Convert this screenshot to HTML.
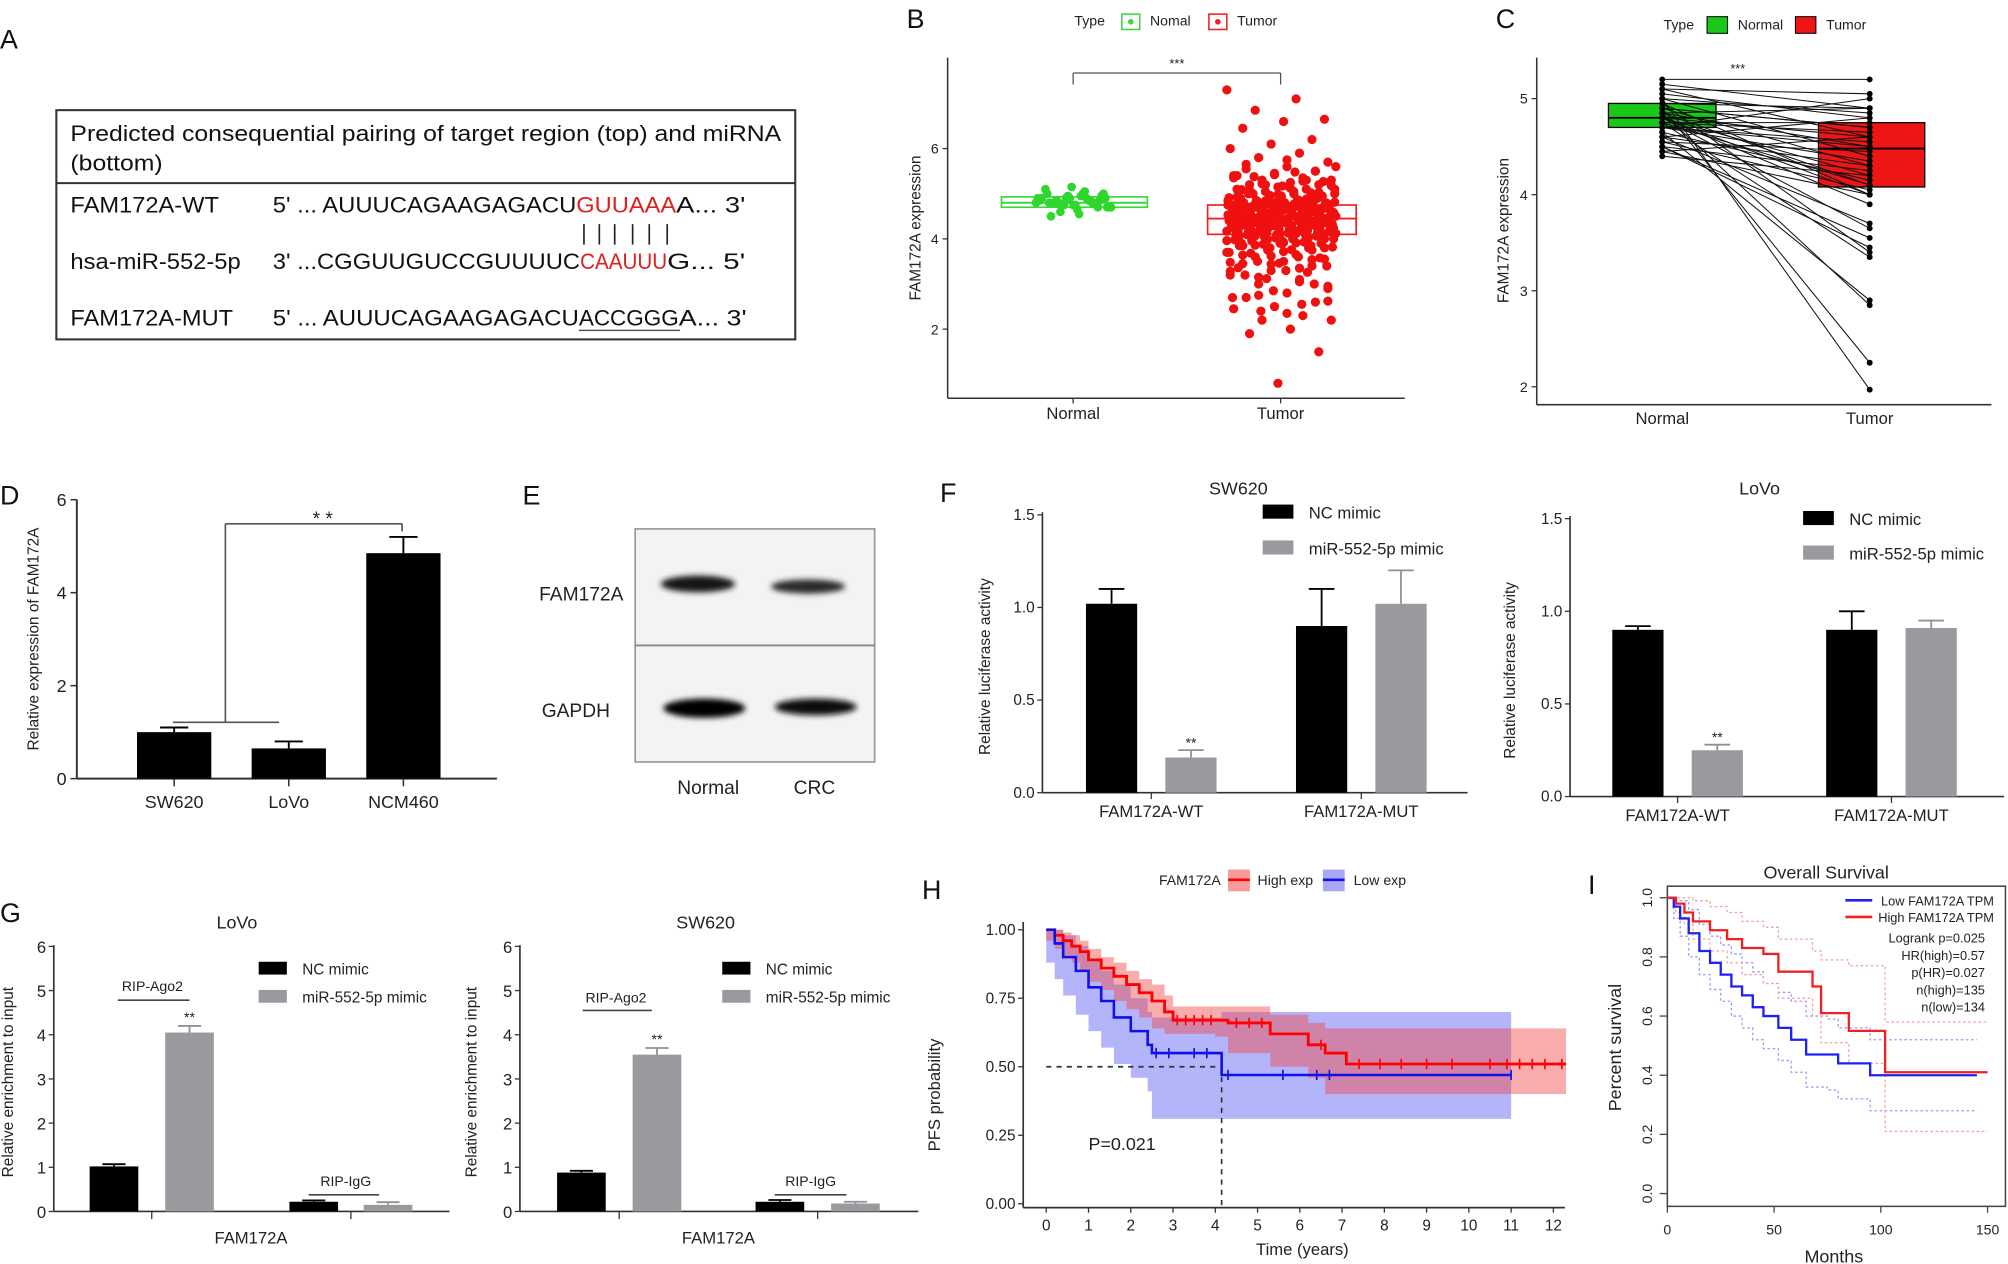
<!DOCTYPE html>
<html><head><meta charset="utf-8"><title>FAM172A figure</title>
<style>
html,body{margin:0;padding:0;background:#fff;}
svg{display:block;font-family:"Liberation Sans",Arial,sans-serif;}
</style></head>
<body>
<svg id="fig" xmlns="http://www.w3.org/2000/svg" width="2008" height="1264" viewBox="0 0 1568 987">
<defs>
<filter id="blur" x="-30%" y="-100%" width="160%" height="300%"><feGaussianBlur stdDeviation="2.2"/></filter>
</defs>
<rect x="0" y="0" width="1568" height="987" fill="#fff"/>

<g font-size="21" fill="#111">
<text x="0" y="38">A</text>
<text x="708" y="22">B</text>
<text x="1168" y="22">C</text>
<text x="0" y="394">D</text>
<text x="408" y="394">E</text>
<text x="734" y="392">F</text>
<text x="0" y="720">G</text>
<text x="720" y="702">H</text>
<text x="1240" y="698">I</text>
</g>

<g font-size="17" fill="#111">
<rect x="44" y="86" width="577" height="179" fill="none" stroke="#333" stroke-width="1.6"/>
<line x1="44" y1="143" x2="621" y2="143" stroke="#333" stroke-width="1.6"/>
<text x="55" y="110" textLength="555" lengthAdjust="spacingAndGlyphs">Predicted consequential pairing of target region (top) and miRNA</text>
<text x="55" y="133" textLength="72" lengthAdjust="spacingAndGlyphs">(bottom)</text>
<text x="55" y="166" textLength="116" lengthAdjust="spacingAndGlyphs">FAM172A-WT</text>
<text x="213" y="166" textLength="237" lengthAdjust="spacingAndGlyphs">5' ... AUUUCAGAAGAGACU</text>
<text x="450" y="166" textLength="78" lengthAdjust="spacingAndGlyphs" fill="#e0201e">GUUAAA</text>
<text x="528" y="166" textLength="54" lengthAdjust="spacingAndGlyphs">A... 3'</text>
<g stroke="#222" stroke-width="1.3">
<line x1="456" y1="175" x2="456" y2="191"/><line x1="468" y1="175" x2="468" y2="191"/><line x1="480" y1="175" x2="480" y2="191"/><line x1="494" y1="175" x2="494" y2="191"/><line x1="507" y1="175" x2="507" y2="191"/><line x1="521" y1="175" x2="521" y2="191"/>
</g>
<text x="55" y="210" textLength="133" lengthAdjust="spacingAndGlyphs">hsa-miR-552-5p</text>
<text x="213" y="210" textLength="240" lengthAdjust="spacingAndGlyphs">3' ...CGGUUGUCCGUUUUC</text>
<text x="453" y="210" textLength="68" lengthAdjust="spacingAndGlyphs" fill="#e0201e">CAAUUU</text>
<text x="521" y="210" textLength="61" lengthAdjust="spacingAndGlyphs">G... 5'</text>
<text x="55" y="254" textLength="127" lengthAdjust="spacingAndGlyphs">FAM172A-MUT</text>
<text x="213" y="254" textLength="239" lengthAdjust="spacingAndGlyphs">5' ... AUUUCAGAAGAGACU</text>
<text x="452" y="254" textLength="78" lengthAdjust="spacingAndGlyphs">ACCGGG</text>
<line x1="452" y1="258" x2="531" y2="258" stroke="#555" stroke-width="1.2"/>
<text x="530" y="254" textLength="53" lengthAdjust="spacingAndGlyphs">A... 3'</text>
</g>

<g>
<rect x="496" y="413" width="187" height="182" fill="#f3f3f3" stroke="#999" stroke-width="1.3"/>
<line x1="496" y1="504" x2="683" y2="504" stroke="#888" stroke-width="1.5"/>
<g filter="url(#blur)">
<ellipse cx="545" cy="456" rx="29" ry="6.5" fill="#151515"/>
<ellipse cx="631" cy="458" rx="29" ry="5.5" fill="#2a2a2a"/>
<ellipse cx="550" cy="553" rx="32" ry="7.5" fill="#050505"/>
<ellipse cx="637" cy="552" rx="32" ry="6.5" fill="#101010"/>
</g>
<text x="421" y="469" font-size="15" fill="#222">FAM172A</text>
<text x="423" y="560" font-size="15" fill="#222">GAPDH</text>
<text x="553" y="620" font-size="15" fill="#222" text-anchor="middle">Normal</text>
<text x="636" y="620" font-size="15" fill="#222" text-anchor="middle">CRC</text>
</g>
<g id="charts"></g>
</svg>
<script>
// Panel B
const bNormal=[4.8,4.9,4.7,4.85,5.0,4.75,4.95,4.6,4.8,5.1,4.9,4.7,4.85,4.8,5.05,4.65,4.9,4.75,4.8,5.0,4.85,4.7,4.95,4.8,4.9,4.55,5.15,4.75,4.85,4.8,4.9,4.7,5.0,4.8,4.85,4.95,4.75,4.9,4.8,4.5];
const bTumor=[7.3,7.1,6.85,6.65,6.6,6.45,6.2,6.1,6.0,5.9,5.8,5.7,5.6,5.55,5.5,5.45,5.4,5.35,5.3,5.3,5.25,5.2,5.2,5.15,5.1,5.1,5.05,5.0,5.0,5.0,4.95,4.95,4.9,4.9,4.9,4.85,4.85,4.85,4.8,4.8,4.8,4.8,4.75,4.75,4.75,4.7,4.7,4.7,4.7,4.65,4.65,4.65,4.6,4.6,4.6,4.6,4.55,4.55,4.55,4.5,4.5,4.5,4.5,4.5,4.45,4.45,4.45,4.45,4.4,4.4,4.4,4.4,4.35,4.35,4.35,4.3,4.3,4.3,4.25,4.25,4.2,4.2,4.2,4.15,4.15,4.1,4.1,4.1,4.05,4.0,4.0,3.95,3.9,3.9,3.85,3.8,3.75,3.7,3.65,3.6,3.55,3.5,3.45,3.4,3.3,3.2,3.1,3.0,2.9,2.8,2.7,2.6,2.5,2.45,2.3,2.2,2.2,2.0,1.9,1.5,0.8,
5.4,5.3,5.2,5.1,5.05,5.0,4.95,4.9,4.85,4.8,4.78,4.75,4.72,4.7,4.68,4.65,4.62,4.6,4.58,4.55,4.52,4.5,4.48,4.46,4.44,4.42,4.4,4.38,4.36,4.34,4.32,4.3,4.28,4.25,4.22,4.2,4.18,4.15,4.12,4.1,4.05,4.0,3.95,3.9,3.85,3.8,3.7,3.6,3.5,3.4,3.3,3.2,3.0,2.85,2.7,2.55,2.4,
5.25,5.15,5.0,4.9,4.82,4.76,4.7,4.64,4.58,4.52,4.47,4.43,4.38,4.33,4.27,4.22,4.17,4.12,4.07,4.0,3.92,3.85,3.75,3.62,3.48,3.35,3.15,2.95,
5.75,5.65,5.5,5.42,5.35,5.28,5.22,5.18,5.12,5.08,5.03,4.98,4.93,4.88,4.84,4.81,4.77,4.73,4.69,4.66,4.63,4.59,4.56,4.53,4.49,4.46,4.43,4.39,4.36,4.33,4.29,4.26,4.23,4.19,4.16,4.13,4.09,4.06,4.02,3.98,3.93,3.88,3.82,3.76,3.68,3.58,3.46,3.36,3.26,3.12,
5.6,5.48,5.38,5.27,5.17,5.09,5.02,4.96,4.91,4.86,4.83,4.79,4.74,4.71,4.67,4.64,4.61,4.57,4.54,4.51,4.47,4.44,4.41,4.37,4.34,4.31,4.27,4.24,4.21,4.17,4.14,4.11,4.07,4.03,3.99,3.96,3.91,3.86,3.8,3.72,3.64,3.54,3.44,3.28,3.05,2.75,2.62,2.35];
const bNormalBox=[4.7,4.8,4.93];
const bTumorBox=[4.1,4.45,4.75];
const bTicks=[2,4,6];
// Panel C
const cNormal=[5.2,5.15,5.1,5.1,5.05,5.0,5.0,4.95,4.95,4.9,4.9,4.9,4.85,4.85,4.85,4.8,4.8,4.8,4.8,4.75,4.75,4.75,4.7,4.7,4.7,4.65,4.65,4.6,4.6,4.55,4.55,4.5,4.5,4.45,4.45,4.4,4.9,4.8,4.7,5.0,4.6,4.85,4.75,4.95,4.5];
const cTumor=[5.2,4.9,5.05,4.6,4.8,4.4,1.97,4.9,3.4,4.7,2.25,4.3,4.5,2.85,4.9,4.2,4.6,3.65,4.0,4.75,3.35,4.1,4.55,5.0,4.35,2.9,4.15,4.8,3.7,4.05,4.45,4.25,3.55,4.6,4.0,4.2,4.7,3.9,4.5,4.85,4.3,4.1,4.65,4.0,3.45];
const cNormalBox=[4.7,4.8,4.95];
const cTumorBox=[4.08,4.48,4.75];
const cTicks=[2,3,4,5];
// Panel D
const dCats=["SW620","LoVo","NCM460"];
const dVals=[1.0,0.65,4.85];
const dErr=[0.1,0.15,0.35];
const dTicks=[0,2,4,6];
// Panel F
const fCats=["FAM172A-WT","FAM172A-MUT"];
const fSWnc=[1.02,0.90], fSWnce=[0.08,0.20];
const fSWmi=[0.19,1.02], fSWmie=[0.04,0.18];
const fLVnc=[0.90,0.90], fLVnce=[0.02,0.10];
const fLVmi=[0.25,0.91], fLVmie=[0.03,0.04];
const fTicks=[0.0,0.5,1.0,1.5];
// Panel G
const gLVnc=[1.02,0.22], gLVnce=[0.05,0.03];
const gLVmi=[4.05,0.15], gLVmie=[0.15,0.06];
const gSWnc=[0.88,0.22], gSWnce=[0.04,0.04];
const gSWmi=[3.55,0.18], gSWmie=[0.15,0.04];
const gTicks=[0,1,2,3,4,5,6];
// Panel H
const hRedT=[0,0.2,0.4,0.6,0.8,1.0,1.3,1.6,1.9,2.2,2.5,2.8,3.0,4.0,4.3,5.3,6.2,6.6,7.1,12.3];
const hRedP=[1,0.98,0.96,0.94,0.92,0.89,0.86,0.83,0.80,0.77,0.74,0.70,0.67,0.67,0.66,0.62,0.58,0.55,0.51,0.51];
const hRedLo=[1,0.96,0.93,0.9,0.88,0.85,0.81,0.78,0.74,0.71,0.68,0.64,0.62,0.62,0.61,0.55,0.5,0.46,0.40,0.40];
const hRedHi=[1,1,0.99,0.98,0.96,0.93,0.9,0.88,0.85,0.82,0.8,0.76,0.72,0.72,0.72,0.69,0.66,0.64,0.64,0.64];
const hBlueT=[0,0.2,0.4,0.7,1.0,1.3,1.6,2.0,2.4,2.5,4.15,11];
const hBlueP=[1,0.95,0.9,0.85,0.79,0.74,0.68,0.63,0.58,0.55,0.47,0.47];
const hBlueLo=[1,0.88,0.82,0.76,0.69,0.63,0.57,0.51,0.46,0.41,0.31,0.31];
const hBlueHi=[1,1,0.98,0.94,0.89,0.85,0.8,0.75,0.7,0.68,0.70,0.70];
const hRedCens=[3.1,3.3,3.5,3.7,3.9,4.5,4.8,5.1,6.5,7.4,7.9,8.4,9.0,9.6,10.5,10.9,11.2,11.5,11.8,12.2];
const hBlueCens=[2.6,2.9,3.5,3.8,4.3,5.6,6.4,6.7,11];
const hXTicks=[0,1,2,3,4,5,6,7,8,9,10,11,12];
const hYTicks=[0,0.25,0.5,0.75,1.0];
const hMedian=[4.15,0.5];
// Panel I
const iLowM=[0,3,6,10,15,20,25,30,35,40,45,52,58,65,75,80,95,145];
const iLowS=[1,0.97,0.93,0.88,0.82,0.78,0.74,0.70,0.67,0.63,0.60,0.56,0.52,0.47,0.47,0.44,0.40,0.40];
const iLowUp=[1,1,0.99,0.96,0.91,0.87,0.84,0.81,0.78,0.75,0.71,0.68,0.65,0.6,0.59,0.56,0.52,0.52];
const iLowDn=[1,0.93,0.87,0.8,0.74,0.69,0.65,0.6,0.56,0.52,0.49,0.45,0.41,0.36,0.35,0.32,0.28,0.28];
const iHighM=[0,4,8,12,20,28,35,45,52,68,72,85,102,150];
const iHighS=[1,0.98,0.95,0.92,0.89,0.86,0.83,0.81,0.75,0.70,0.61,0.55,0.41,0.41];
const iHighUp=[1,1,1,0.99,0.97,0.95,0.92,0.9,0.86,0.82,0.79,0.77,0.58,0.58];
const iHighDn=[1,0.95,0.91,0.86,0.82,0.78,0.74,0.71,0.66,0.6,0.51,0.44,0.21,0.21];
const iXTicks=[0,50,100,150];
const iYTicks=[0,0.2,0.4,0.6,0.8,1.0];
const iStats=["Logrank p=0.025","HR(high)=0.57","p(HR)=0.027","n(high)=135","n(low)=134"];

const NS='http://www.w3.org/2000/svg';
const root=document.getElementById('charts');
function mk(p,tag,a,txt){const e=document.createElementNS(NS,tag);for(const k in a)e.setAttribute(k,a[k]);if(txt!=null)e.textContent=txt;p.appendChild(e);return e;}
function grp(name){const g=mk(root,'g',{});


return g;}
function lbl(p,x,y,s,size,anchor,name,extra){const a=Object.assign({x:x,y:y,'font-size':size,'text-anchor':anchor||'start',fill:'#222'},extra||{});const t=mk(p,'text',a,s);


return t;}
function line(p,x1,y1,x2,y2,st,w,name,dash){const l=mk(p,'line',{x1:x1,y1:y1,x2:x2,y2:y2,stroke:st,'stroke-width':w});if(dash)l.setAttribute('stroke-dasharray',dash);


return l;}
function rect(p,x,y,w,h,fill,name,extra){const r=mk(p,'rect',Object.assign({x:x,y:y,width:w,height:h,fill:fill},extra||{}));


return r;}
function vlabel(p,x,y,s,size,name){return lbl(p,x,y,s,size,'middle',name,{transform:'rotate(-90 '+x+' '+y+')'});}

// PANEL B
(function(){
const g=grp('panel-b-boxplot');
const y=v=>257-(v-2)*35.25;
line(g,740,45,740,311,'#333',1.2,'b-y-axis');
line(g,740,311,1097,311,'#333',1.2,'b-x-axis');
bTicks.forEach(v=>{line(g,736,y(v),740,y(v),'#333',1,'b-y-tick');lbl(g,733,y(v)+4,String(v),11,'end','b-y-tick-label');});
vlabel(g,719,178,'FAM172A expression',12,'b-y-axis-title');
lbl(g,838,327,'Normal',13,'middle','b-x-label-normal');
lbl(g,1000,327,'Tumor',13,'middle','b-x-label-tumor');
line(g,838,315,838,311,'#333',1,'b-x-tick');line(g,1000,315,1000,311,'#333',1,'b-x-tick');
function box(cx,w,q,col,name){const bg=mk(g,'g',{});


rect(bg,cx-w/2,y(q[2]),w,y(q[0])-y(q[2]),'none',name+'-rect',{stroke:col,'stroke-width':1.3});
line(bg,cx-w/2,y(q[1]),cx+w/2,y(q[1]),col,1.5,name+'-median');}
box(839,114,bNormalBox,'#3dd63d','b-box-normal');
box(1001,116,bTumorBox,'#ee2020','b-box-tumor');
bNormal.forEach((v,i)=>{const c=mk(g,'circle',{cx:839+(((i*37)%41)/41-0.5)*60,cy:y(v),r:3.4,fill:'#2ed62e'});

});
bTumor.forEach((v,i)=>{const c=mk(g,'circle',{cx:1001+(((i*61)%97)/97-0.5)*86,cy:y(v),r:3.6,fill:'#f01010'});

});
line(g,838,57,1000,57,'#555',1,'b-sig-bracket');line(g,838,57,838,66,'#555',1,'b-sig-left');line(g,1000,57,1000,66,'#555',1,'b-sig-right');
lbl(g,919,53,'***',10,'middle','b-sig-stars');
lbl(g,839,20,'Type',11,'start','b-legend-title');
rect(g,876,11,14,12,'none','b-legend-normal-key',{stroke:'#3dd63d','stroke-width':1.2});
let d=mk(g,'circle',{cx:883,cy:17,r:2.2,fill:'#3dd63d'});


lbl(g,898,20,'Nomal',11,'start','b-legend-normal-label');
rect(g,944,11,14,12,'none','b-legend-tumor-key',{stroke:'#ee2020','stroke-width':1.2});
d=mk(g,'circle',{cx:951,cy:17,r:2.2,fill:'#ee2020'});


lbl(g,966,20,'Tumor',11,'start','b-legend-tumor-label');
})();

// PANEL C
(function(){
const g=grp('panel-c-paired');
const y=v=>77-(v-5)*75;
const xN=1298,xT=1460;
line(g,1200,45,1200,316,'#333',1.2,'c-y-axis');
line(g,1200,316,1555,316,'#333',1.2,'c-x-axis');
cTicks.forEach(v=>{line(g,1196,y(v),1200,y(v),'#333',1,'c-y-tick');lbl(g,1193,y(v)+4,String(v),11,'end','c-y-tick-label');});
vlabel(g,1178,180,'FAM172A expression',12,'c-y-axis-title');
lbl(g,xN,331,'Normal',13,'middle','c-x-label-normal');
lbl(g,xT,331,'Tumor',13,'middle','c-x-label-tumor');
rect(g,1256,y(cNormalBox[2]),84,y(cNormalBox[0])-y(cNormalBox[2]),'#19c819','c-box-normal',{stroke:'#000','stroke-width':1});
line(g,1256,y(cNormalBox[1]),1340,y(cNormalBox[1]),'#000',1.5,'c-median-normal');
rect(g,1420,y(cTumorBox[2]),83,y(cTumorBox[0])-y(cTumorBox[2]),'#ee1515','c-box-tumor',{stroke:'#000','stroke-width':1});
line(g,1420,y(cTumorBox[1]),1503,y(cTumorBox[1]),'#000',1.5,'c-median-tumor');
cNormal.forEach((v,i)=>{line(g,xN,y(v),xT,y(cTumor[i]),'#111',0.8,'c-pair-line');});
cNormal.forEach(v=>{const c=mk(g,'circle',{cx:xN,cy:y(v),r:2.3,fill:'#000'});

});
cTumor.forEach(v=>{const c=mk(g,'circle',{cx:xT,cy:y(v),r:2.3,fill:'#000'});

});
lbl(g,1357,57,'***',10,'middle','c-sig-stars');
lbl(g,1299,23,'Type',11,'start','c-legend-title');
rect(g,1333,13,16,13,'#19c819','c-legend-normal-key',{stroke:'#000','stroke-width':0.8});
lbl(g,1357,23,'Normal',11,'start','c-legend-normal-label');
rect(g,1402,13,16,13,'#ee1515','c-legend-tumor-key',{stroke:'#000','stroke-width':0.8});
lbl(g,1426,23,'Tumor',11,'start','c-legend-tumor-label');
})();

// PANEL D
(function(){
const g=grp('panel-d-bars');
const y=v=>608-v*36.3;
const x=i=>136+i*89.5;
line(g,60,390,60,608,'#333',1.5,'d-y-axis');
line(g,60,608,388,608,'#333',1.5,'d-x-axis');
dTicks.forEach(v=>{line(g,55,y(v),60,y(v),'#333',1.2,'d-y-tick');lbl(g,52,y(v)+5,String(v),14,'end','d-y-tick-label');});
vlabel(g,30,499,'Relative expression of FAM172A',12,'d-y-axis-title');
dCats.forEach((c,i)=>{
line(g,x(i),608,x(i),614,'#333',1.2,'d-x-tick');
lbl(g,x(i),631,c,14,'middle','d-x-label');
line(g,x(i),y(dVals[i]),x(i),y(dVals[i]+dErr[i]),'#000',1.5,'d-error-bar');
line(g,x(i)-11,y(dVals[i]+dErr[i]),x(i)+11,y(dVals[i]+dErr[i]),'#000',1.5,'d-error-cap');
const r=rect(g,x(i)-29,y(dVals[i]),58,y(0)-y(dVals[i]),'#000','d-bar');
});
line(g,135,564,218,564,'#555',1.3,'d-bracket-low');
line(g,176,564,176,409,'#555',1.3,'d-bracket-vert');
line(g,176,409,314,409,'#555',1.3,'d-bracket-top');
line(g,314,409,314,415,'#555',1.3,'d-bracket-right');
lbl(g,252,410,'* *',15,'middle','d-sig-stars');
})();

// PANEL F
function fPanel(name,ax,y0,y15,xEnd,bars,ncV,ncE,miV,miE,title,tx,legX,legY1,legY2,ytx){
const g=grp(name);
const y=v=>y0-v*(y0-y15)/1.5;
line(g,ax,y15-2,ax,y0,'#333',1.3,name+'-y-axis');
line(g,ax,y0,xEnd,y0,'#333',1.3,name+'-x-axis');
fTicks.forEach(v=>{line(g,ax-4,y(v),ax,y(v),'#333',1,name+'-y-tick');lbl(g,ax-6,y(v)+4,v.toFixed(1),12,'end',name+'-y-tick-label');});
vlabel(g,ytx,(y0+y15)/2+10,'Relative luciferase activity',12,name+'-y-axis-title');
lbl(g,tx,386,title,14,'middle',name+'-title');
fCats.forEach((c,i)=>{
const b=bars[i];
const mid=(b[0]+b[1])/2;
line(g,mid,y0,mid,y0+5,'#333',1,name+'-x-tick');
lbl(g,mid,y0+19,c,13,'middle',name+'-x-label');
line(g,b[0],y(ncV[i]),b[0],y(ncV[i]+ncE[i]),'#000',1.4,name+'-err-nc');
line(g,b[0]-10,y(ncV[i]+ncE[i]),b[0]+10,y(ncV[i]+ncE[i]),'#000',1.4,name+'-cap-nc');
rect(g,b[0]-20,y(ncV[i]),40,y0-y(ncV[i]),'#000',name+'-bar-nc');
line(g,b[1],y(miV[i]),b[1],y(miV[i]+miE[i]),'#909094',1.4,name+'-err-mimic');
line(g,b[1]-10,y(miV[i]+miE[i]),b[1]+10,y(miV[i]+miE[i]),'#909094',1.4,name+'-cap-mimic');
rect(g,b[1]-20,y(miV[i]),40,y0-y(miV[i]),'#9a9a9e',name+'-bar-mimic');});
lbl(g,bars[0][1],y(miV[0]+miE[0])-2,'**',11,'middle',name+'-sig');
rect(g,legX,legY1-6,24,11,'#000',name+'-legend-nc-key');
lbl(g,legX+36,legY1+5,'NC mimic',13,'start',name+'-legend-nc-label');
rect(g,legX,legY2-6,24,11,'#9a9a9e',name+'-legend-mimic-key');
lbl(g,legX+36,legY2+5,'miR-552-5p mimic',13,'start',name+'-legend-mimic-label');
}
fPanel('f-sw620',814,619,402,1146,[[868,930],[1032,1094]],fSWnc,fSWnce,fSWmi,fSWmie,'SW620',967,986,400,428,773);
fPanel('f-lovo',1226,622,405,1565,[[1279,1341],[1446,1508]],fLVnc,fLVnce,fLVmi,fLVmie,'LoVo',1374,1408,405,432,1183);

// PANEL G
function gPanel(name,ax,xEnd,cats,ncV,ncE,miV,miE,title,tx,legX,ytx,agoTxt,agoLine,igTxt,igLine){
const g=grp(name);
const y=v=>946-v*34.5;
line(g,ax,738,ax,946,'#333',1.3,name+'-y-axis');
line(g,ax,946,xEnd,946,'#333',1.3,name+'-x-axis');
gTicks.forEach(v=>{line(g,ax-4,y(v),ax,y(v),'#333',1,name+'-y-tick');lbl(g,ax-6,y(v)+5,String(v),13,'end',name+'-y-tick-label');});
vlabel(g,ytx,845,'Relative enrichment to input',12,name+'-y-axis-title');
lbl(g,tx,725,title,14,'middle',name+'-title');
lbl(g,(cats[0][0]+cats[1][1])/2,971,'FAM172A',13,'middle',name+'-x-label');
cats.forEach((b,i)=>{
const mid=(b[0]+b[1])/2;
line(g,mid,946,mid,952,'#333',1,name+'-x-tick');
line(g,b[0],y(ncV[i]),b[0],y(ncV[i]+ncE[i]),'#000',1.4,name+'-err-nc');
line(g,b[0]-9,y(ncV[i]+ncE[i]),b[0]+9,y(ncV[i]+ncE[i]),'#000',1.4,name+'-cap-nc');
rect(g,b[0]-19,y(ncV[i]),38,946-y(ncV[i]),'#000',name+'-bar-nc');
line(g,b[1],y(miV[i]),b[1],y(miV[i]+miE[i]),'#909094',1.4,name+'-err-mimic');
line(g,b[1]-9,y(miV[i]+miE[i]),b[1]+9,y(miV[i]+miE[i]),'#909094',1.4,name+'-cap-mimic');
rect(g,b[1]-19,y(miV[i]),38,946-y(miV[i]),'#9a9a9e',name+'-bar-mimic');});
lbl(g,cats[0][1],y(miV[0]+miE[0])-3,'**',11,'middle',name+'-sig');
rect(g,legX,751,22,10,'#000',name+'-legend-nc-key');
lbl(g,legX+34,761,'NC mimic',12,'start',name+'-legend-nc-label');
rect(g,legX,773,22,10,'#9a9a9e',name+'-legend-mimic-key');
lbl(g,legX+34,783,'miR-552-5p mimic',12,'start',name+'-legend-mimic-label');
lbl(g,agoTxt[0],agoTxt[1],'RIP-Ago2',11,'middle',name+'-ago2-label');
line(g,agoLine[0],agoLine[2],agoLine[1],agoLine[2],'#444',1.2,name+'-ago2-line');
lbl(g,igTxt[0],igTxt[1],'RIP-IgG',11,'middle',name+'-igg-label');
line(g,igLine[0],igLine[2],igLine[1],igLine[2],'#444',1.2,name+'-igg-line');
}
gPanel('g-lovo',42,351,[[89,148],[245,303]],gLVnc,gLVnce,gLVmi,gLVmie,'LoVo',185,202,10,[119,774],[92,148,781],[270,926],[241,296,933]);
gPanel('g-sw620',406,717,[[454,513],[609,668]],gSWnc,gSWnce,gSWmi,gSWmie,'SW620',551,564,372,[481,783],[455,509,789],[633,926],[605,661,933]);

// PANEL H
(function(){
const g=grp('panel-h-km');
const x=t=>817+t*33.0;
const y=p=>940-p*214;
function stepPath(T,P){let d='M'+x(T[0])+','+y(P[0]);for(let i=1;i<T.length;i++){d+=' H'+x(T[i])+' V'+y(P[i]);}return d;}
function band(T,L,H){let d='M'+x(T[0])+','+y(H[0]);for(let i=1;i<T.length;i++){d+=' H'+x(T[i])+' V'+y(H[i]);}
d+=' V'+y(L[T.length-1]);for(let i=T.length-1;i>0;i--){d+=' V'+y(L[i])+' H'+x(T[i-1]);}d+=' V'+y(L[0])+'Z';return d;}
let p=mk(g,'path',{d:band(hBlueT,hBlueLo,hBlueHi),fill:'#6a6af5','fill-opacity':0.5});


p=mk(g,'path',{d:band(hRedT,hRedLo,hRedHi),fill:'#f24848','fill-opacity':0.45});


line(g,799,720,799,943,'#333',1.3,'h-y-axis');
line(g,799,943,1222,943,'#333',1.3,'h-x-axis');
hYTicks.forEach(v=>{line(g,795,y(v),799,y(v),'#333',1,'h-y-tick');lbl(g,793,y(v)+4,v.toFixed(2),12,'end','h-y-tick-label');});
hXTicks.forEach(v=>{line(g,x(v),943,x(v),947,'#333',1,'h-x-tick');lbl(g,x(v),961,String(v),12,'middle','h-x-tick-label');});
lbl(g,1017,980,'Time (years)',13,'middle','h-x-axis-title');
vlabel(g,734,855,'PFS probability',13,'h-y-axis-title');
line(g,x(0),y(hMedian[1]),x(hMedian[0]),y(hMedian[1]),'#333',1.3,'h-median-hline','4,4');
line(g,x(hMedian[0]),y(hMedian[1]),x(hMedian[0]),943,'#333',1.3,'h-median-vline','4,4');
p=mk(g,'path',{d:stepPath(hRedT,hRedP),fill:'none',stroke:'#f00',"stroke-width":2.2});


p=mk(g,'path',{d:stepPath(hBlueT,hBlueP),fill:'none',stroke:'#1010e8',"stroke-width":2});


function atT(T,P,t){let v=P[0];for(let i=0;i<T.length;i++){if(T[i]<=t)v=P[i];}return v;}
hRedCens.forEach(t=>{line(g,x(t),y(atT(hRedT,hRedP,t))-4,x(t),y(atT(hRedT,hRedP,t))+4,'#f00',1.3,'h-censor-high');});
hBlueCens.forEach(t=>{line(g,x(t),y(atT(hBlueT,hBlueP,t))-4,x(t),y(atT(hBlueT,hBlueP,t))+4,'#1010e8',1.3,'h-censor-low');});
lbl(g,850,898,'P=0.021',14,'start','h-pvalue');
lbl(g,905,691,'FAM172A',11,'start','h-legend-title');
rect(g,959,679,17,17,'#f79a9a','h-legend-high-bg');
line(g,959,687,976,687,'#f00',2,'h-legend-high-line');
lbl(g,982,691,'High exp',11,'start','h-legend-high-label');
rect(g,1033,679,17,17,'#a8a8f5','h-legend-low-bg');
line(g,1033,687,1050,687,'#1010e8',2,'h-legend-low-line');
lbl(g,1057,691,'Low exp',11,'start','h-legend-low-label');
})();

// PANEL I
(function(){
const g=grp('panel-i-km');
const x=m=>1302+m*1.667;
const y=s=>932-s*231;
function stepPath(T,P){let d='M'+x(T[0])+','+y(P[0]);for(let i=1;i<T.length;i++){d+=' H'+x(T[i])+' V'+y(P[i]);}return d;}
rect(g,1302,692,264,250,'none','i-frame',{stroke:'#444','stroke-width':1.2});
iYTicks.forEach(v=>{line(g,1296,y(v),1302,y(v),'#444',1,'i-y-tick');lbl(g,1290,y(v),v.toFixed(1),11,'middle','i-y-tick-label',{transform:'rotate(-90 1290 '+y(v)+')'});});
iXTicks.forEach(v=>{line(g,x(v),942,x(v),947,'#444',1,'i-x-tick');lbl(g,x(v),964,String(v),11,'middle','i-x-tick-label');});
lbl(g,1432,986,'Months',14,'middle','i-x-axis-title');
vlabel(g,1266,818,'Percent survival',14,'i-y-axis-title');
lbl(g,1426,686,'Overall Survival',14,'middle','i-title');
const series=[[iLowM,iLowUp,'#9a9af5','i-ci-low-upper'],[iLowM,iLowDn,'#9a9af5','i-ci-low-lower'],[iHighM,iHighUp,'#f5a0a0','i-ci-high-upper'],[iHighM,iHighDn,'#f5a0a0','i-ci-high-lower']];
series.forEach(s=>{const p=mk(g,'path',{d:stepPath(s[0],s[1]),fill:'none',stroke:s[2],'stroke-width':1,'stroke-dasharray':'2,2'});

});
let p=mk(g,'path',{d:stepPath(iLowM,iLowS),fill:'none',stroke:'#2020f0','stroke-width':1.8});


p=mk(g,'path',{d:stepPath(iHighM,iHighS),fill:'none',stroke:'#f02020','stroke-width':1.8});


line(g,1441,703,1462,703,'#2020f0',2,'i-legend-low-line');
lbl(g,1557,707,'Low FAM172A TPM',10,'end','i-legend-low-label');
line(g,1441,716,1462,716,'#f02020',2,'i-legend-high-line');
lbl(g,1557,720,'High FAM172A TPM',10,'end','i-legend-high-label');
iStats.forEach((s,i)=>{lbl(g,1550,736+i*13.5,s,10,'end','i-stat-line');});
})();
</script>
</body></html>
